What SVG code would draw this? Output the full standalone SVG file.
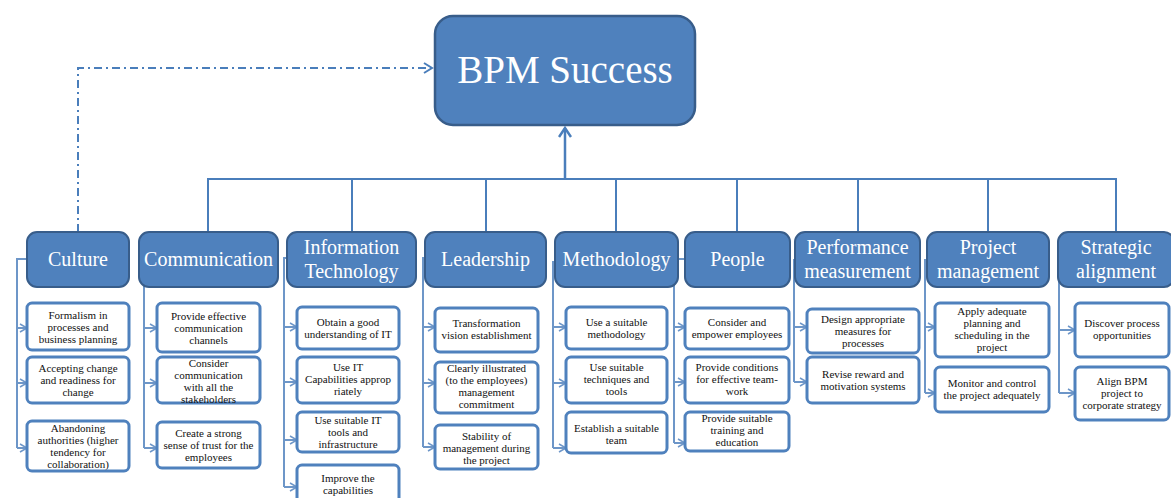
<svg xmlns="http://www.w3.org/2000/svg" width="1171" height="498" viewBox="0 0 1171 498">
<style>
.bg{fill:#ffffff}
.cat{fill:#4f81bd;stroke:#385d8a;stroke-width:2}
.sub{fill:#ffffff;stroke:#4f81bd;stroke-width:3}
.ct{font-family:'Liberation Serif','Times New Roman','DejaVu Serif',serif;font-size:20px;fill:#ffffff;text-anchor:middle}
.st{font-family:'Liberation Serif','Times New Roman','DejaVu Serif',serif;font-size:11px;fill:#111111;text-anchor:middle}
.big{font-family:'Liberation Serif','Times New Roman','DejaVu Serif',serif;font-size:39px;fill:#ffffff;text-anchor:middle}
.tree{fill:none;stroke:#4a7ebb;stroke-width:2}
.br{fill:none;stroke:#6d96c8;stroke-width:2}
.ar{fill:none;stroke:#6d96c8;stroke-width:2}
</style>
<defs>
<marker id="oa" markerWidth="10" markerHeight="10" refX="8" refY="5" orient="auto" markerUnits="userSpaceOnUse">
<path d="M1,1 L8,5 L1,9" fill="none" stroke="#6d96c8" stroke-width="1.5"/>
</marker>
<marker id="up" markerWidth="14" markerHeight="14" refX="12" refY="7" orient="auto" markerUnits="userSpaceOnUse">
<path d="M3,1 L12,7 L3,13" fill="none" stroke="#4a7ebb" stroke-width="2.5"/>
</marker>
<marker id="da" markerWidth="12" markerHeight="12" refX="10" refY="6" orient="auto" markerUnits="userSpaceOnUse">
<path d="M2,1 L10,6 L2,11" fill="none" stroke="#4a7ebb" stroke-width="2"/>
</marker>
</defs>
<rect class="bg" x="0" y="0" width="1171" height="498"/>

<g id="connectors">
<path class="tree" d="M565,179 V128" marker-end="url(#up)" style="stroke-width:2.5"/>
<path class="tree" d="M208,232 V179 H1116 V232 M352,179 V232 M486,179 V232 M616,179 V232 M737,179 V232 M858,179 V232 M988,179 V232"/>
<path class="tree" d="M78,232 V68 H432" stroke-dasharray="8,4,2,4" marker-end="url(#da)"/>
<path class="br" d="M27,259 H17 V448"/>
<line class="ar" x1="17" y1="328" x2="27" y2="328" marker-end="url(#oa)"/>
<line class="ar" x1="17" y1="383" x2="27" y2="383" marker-end="url(#oa)"/>
<line class="ar" x1="17" y1="448" x2="27" y2="448" marker-end="url(#oa)"/>
<path class="br" d="M144,270 V448"/>
<line class="ar" x1="144" y1="328" x2="157" y2="328" marker-end="url(#oa)"/>
<line class="ar" x1="144" y1="383" x2="157" y2="383" marker-end="url(#oa)"/>
<line class="ar" x1="144" y1="448" x2="157" y2="448" marker-end="url(#oa)"/>
<path class="br" d="M287,258 H284 V487"/>
<line class="ar" x1="284" y1="327" x2="297" y2="327" marker-end="url(#oa)"/>
<line class="ar" x1="284" y1="382" x2="297" y2="382" marker-end="url(#oa)"/>
<line class="ar" x1="284" y1="440" x2="297" y2="440" marker-end="url(#oa)"/>
<line class="ar" x1="284" y1="487" x2="297" y2="487" marker-end="url(#oa)"/>
<path class="br" d="M425,258 H423 V447"/>
<line class="ar" x1="423" y1="327" x2="435" y2="327" marker-end="url(#oa)"/>
<line class="ar" x1="423" y1="383" x2="435" y2="383" marker-end="url(#oa)"/>
<line class="ar" x1="423" y1="447" x2="435" y2="447" marker-end="url(#oa)"/>
<path class="br" d="M555,262 H553 V448"/>
<line class="ar" x1="553" y1="327" x2="566" y2="327" marker-end="url(#oa)"/>
<line class="ar" x1="553" y1="383" x2="566" y2="383" marker-end="url(#oa)"/>
<line class="ar" x1="553" y1="448" x2="566" y2="448" marker-end="url(#oa)"/>
<path class="br" d="M685,259 H674 V443"/>
<line class="ar" x1="674" y1="327" x2="685" y2="327" marker-end="url(#oa)"/>
<line class="ar" x1="674" y1="382" x2="685" y2="382" marker-end="url(#oa)"/>
<line class="ar" x1="674" y1="443" x2="685" y2="443" marker-end="url(#oa)"/>
<path class="br" d="M796,260 H794 V382"/>
<line class="ar" x1="794" y1="327" x2="807" y2="327" marker-end="url(#oa)"/>
<line class="ar" x1="794" y1="382" x2="807" y2="382" marker-end="url(#oa)"/>
<path class="br" d="M927,260 H925 V393"/>
<line class="ar" x1="925" y1="327" x2="935" y2="327" marker-end="url(#oa)"/>
<line class="ar" x1="925" y1="393" x2="935" y2="393" marker-end="url(#oa)"/>
<path class="br" d="M1059,270 V393"/>
<line class="ar" x1="1059" y1="330" x2="1075" y2="330" marker-end="url(#oa)"/>
<line class="ar" x1="1059" y1="393" x2="1075" y2="393" marker-end="url(#oa)"/>
</g>

<g id="bpm-success">
<rect class="cat" x="435" y="16" width="260" height="109" rx="18" style="stroke-width:2.5"/>
<text class="big" x="565" y="83">BPM Success</text>
</g>

<g id="culture">
<rect class="cat" x="27" y="232" width="102" height="55" rx="10"/>
<text class="ct" x="78" y="266">Culture</text>
</g>
<g id="communication">
<rect class="cat" x="139" y="232" width="139" height="55" rx="10"/>
<text class="ct" x="208.5" y="266">Communication</text>
</g>
<g id="information-technology">
<rect class="cat" x="287" y="232" width="129" height="55" rx="10"/>
<text class="ct" x="351.5" y="254">Information</text>
<text class="ct" x="351.5" y="278">Technology</text>
</g>
<g id="leadership">
<rect class="cat" x="425" y="232" width="121" height="55" rx="10"/>
<text class="ct" x="485.5" y="266">Leadership</text>
</g>
<g id="methodology">
<rect class="cat" x="555" y="232" width="123" height="55" rx="10"/>
<text class="ct" x="616.5" y="266">Methodology</text>
</g>
<g id="people">
<rect class="cat" x="685" y="232" width="105" height="55" rx="10"/>
<text class="ct" x="737.5" y="266">People</text>
</g>
<g id="performance-measurement">
<rect class="cat" x="795" y="232" width="125" height="55" rx="10"/>
<text class="ct" x="857.5" y="254">Performance</text>
<text class="ct" x="857.5" y="278">measurement</text>
</g>
<g id="project-management">
<rect class="cat" x="927" y="232" width="122" height="55" rx="10"/>
<text class="ct" x="988" y="254">Project</text>
<text class="ct" x="988" y="278">management</text>
</g>
<g id="strategic-alignment">
<rect class="cat" x="1058" y="232" width="116" height="55" rx="10"/>
<text class="ct" x="1116" y="254">Strategic</text>
<text class="ct" x="1116" y="278">alignment</text>
</g>

<g id="c1"><rect class="sub" x="27" y="303" width="102" height="47" rx="5"/>
<text class="st" x="78" y="319">Formalism in</text><text class="st" x="78" y="331">processes and</text><text class="st" x="78" y="343">business planning</text></g>
<g id="c2"><rect class="sub" x="27" y="357" width="102" height="46" rx="5"/>
<text class="st" x="78" y="372">Accepting change</text><text class="st" x="78" y="384">and readiness for</text><text class="st" x="78" y="396">change</text></g>
<g id="c3"><rect class="sub" x="27" y="421" width="102" height="50" rx="5"/>
<text class="st" x="78" y="432">Abandoning</text><text class="st" x="78" y="444">authorities (higher</text><text class="st" x="78" y="456">tendency for</text><text class="st" x="78" y="468">collaboration)</text></g>

<g id="m1"><rect class="sub" x="157" y="303" width="103" height="49" rx="5"/>
<text class="st" x="208.5" y="320">Provide effective</text><text class="st" x="208.5" y="332">communication</text><text class="st" x="208.5" y="344">channels</text></g>
<g id="m2"><rect class="sub" x="157" y="357" width="103" height="46" rx="5"/>
<text class="st" x="208.5" y="367">Consider</text><text class="st" x="208.5" y="379">communication</text><text class="st" x="208.5" y="391">with all the</text><text class="st" x="208.5" y="403">stakeholders</text></g>
<g id="m3"><rect class="sub" x="157" y="422" width="103" height="46" rx="5"/>
<text class="st" x="208.5" y="437">Create a strong</text><text class="st" x="208.5" y="449">sense of trust for the</text><text class="st" x="208.5" y="461">employees</text></g>

<g id="i1"><rect class="sub" x="297" y="307" width="102" height="42" rx="5"/>
<text class="st" x="348" y="326">Obtain a good</text><text class="st" x="348" y="338">understanding of IT</text></g>
<g id="i2"><rect class="sub" x="297" y="357" width="102" height="46" rx="5"/>
<text class="st" x="348" y="371">Use IT</text><text class="st" x="348" y="383">Capabilities approp</text><text class="st" x="348" y="395">riately</text></g>
<g id="i3"><rect class="sub" x="297" y="412" width="102" height="40" rx="5"/>
<text class="st" x="348" y="424">Use suitable IT</text><text class="st" x="348" y="436">tools and</text><text class="st" x="348" y="448">infrastructure</text></g>
<g id="i4"><rect class="sub" x="297" y="465" width="102" height="50" rx="5"/>
<text class="st" x="348" y="482">Improve the</text><text class="st" x="348" y="494">capabilities</text></g>

<g id="l1"><rect class="sub" x="435" y="308" width="103" height="44" rx="5"/>
<text class="st" x="486.5" y="327">Transformation</text><text class="st" x="486.5" y="339">vision establishment</text></g>
<g id="l2"><rect class="sub" x="435" y="362" width="103" height="51" rx="5"/>
<text class="st" x="486.5" y="372">Clearly illustrated</text><text class="st" x="486.5" y="384">(to the employees)</text><text class="st" x="486.5" y="396">management</text><text class="st" x="486.5" y="408">commitment</text></g>
<g id="l3"><rect class="sub" x="435" y="425" width="103" height="44" rx="5"/>
<text class="st" x="486.5" y="440">Stability of</text><text class="st" x="486.5" y="452">management during</text><text class="st" x="486.5" y="464">the project</text></g>

<g id="t1"><rect class="sub" x="566" y="307" width="101" height="42" rx="5"/>
<text class="st" x="616.5" y="326">Use a suitable</text><text class="st" x="616.5" y="338">methodology</text></g>
<g id="t2"><rect class="sub" x="566" y="357" width="101" height="46" rx="5"/>
<text class="st" x="616.5" y="371">Use suitable</text><text class="st" x="616.5" y="383">techniques and</text><text class="st" x="616.5" y="395">tools</text></g>
<g id="t3"><rect class="sub" x="566" y="412" width="101" height="41" rx="5"/>
<text class="st" x="616.5" y="432">Establish a suitable</text><text class="st" x="616.5" y="444">team</text></g>

<g id="p1"><rect class="sub" x="685" y="308" width="104" height="41" rx="5"/>
<text class="st" x="737" y="326">Consider and</text><text class="st" x="737" y="338">empower employees</text></g>
<g id="p2"><rect class="sub" x="685" y="357" width="104" height="46" rx="5"/>
<text class="st" x="737" y="371">Provide conditions</text><text class="st" x="737" y="383">for effective team-</text><text class="st" x="737" y="395">work</text></g>
<g id="p3"><rect class="sub" x="685" y="412" width="104" height="39" rx="5"/>
<text class="st" x="737" y="422">Provide suitable</text><text class="st" x="737" y="434">training and</text><text class="st" x="737" y="446">education</text></g>

<g id="f1"><rect class="sub" x="807" y="309" width="112" height="44" rx="5"/>
<text class="st" x="863" y="323">Design appropriate</text><text class="st" x="863" y="335">measures for</text><text class="st" x="863" y="347">processes</text></g>
<g id="f2"><rect class="sub" x="807" y="357" width="112" height="46" rx="5"/>
<text class="st" x="863" y="378">Revise reward and</text><text class="st" x="863" y="390">motivation systems</text></g>

<g id="j1"><rect class="sub" x="935" y="303" width="114" height="54" rx="5"/>
<text class="st" x="992" y="315">Apply adequate</text><text class="st" x="992" y="327">planning and</text><text class="st" x="992" y="339">scheduling in the</text><text class="st" x="992" y="351">project</text></g>
<g id="j2"><rect class="sub" x="935" y="367" width="114" height="45" rx="5"/>
<text class="st" x="992" y="387">Monitor and control</text><text class="st" x="992" y="399">the project adequately</text></g>

<g id="s1"><rect class="sub" x="1075" y="303" width="94" height="54" rx="5"/>
<text class="st" x="1122" y="327">Discover process</text><text class="st" x="1122" y="339">opportunities</text></g>
<g id="s2"><rect class="sub" x="1075" y="367" width="94" height="53" rx="5"/>
<text class="st" x="1122" y="385">Align BPM</text><text class="st" x="1122" y="397">project to</text><text class="st" x="1122" y="409">corporate strategy</text></g>
</svg>
